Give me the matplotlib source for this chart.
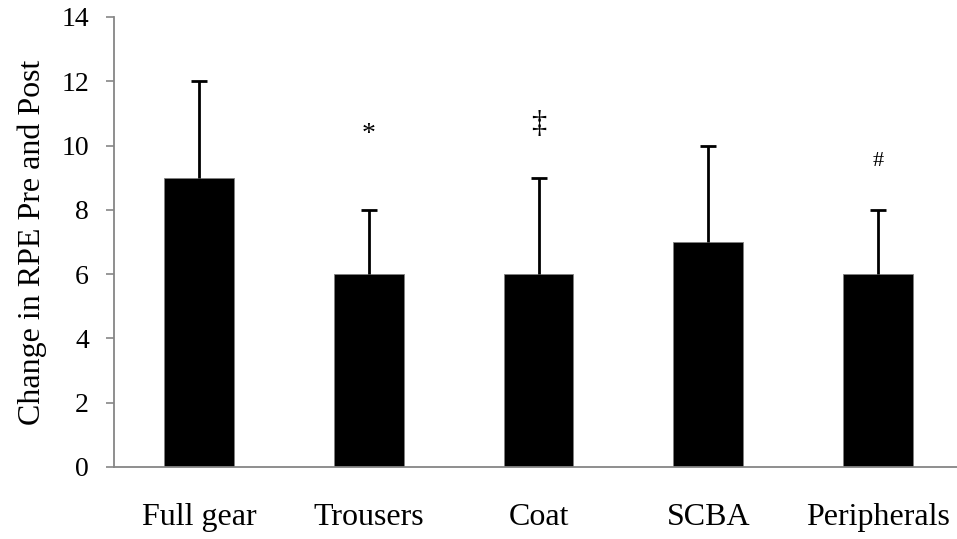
import matplotlib.pyplot as plt
import numpy as np

plt.rcParams.update({"font.family": "Liberation Serif", "font.size": 22})

categories = ["Full gear", "Trousers", "Coat", "SCBA", "Peripherals"]
means = [9, 6, 6, 7, 6]
sd_upper = [3, 2, 3, 3, 2]
marks = ["", "*", "\u2021", "", "#"]
mark_y = [0, 10.33, 10.67, 0, 9.5]
mark_size = [0, 20, 22, 0, 16]

W, H = 957, 539
fig = plt.figure(figsize=(W / 100, H / 100), dpi=100)
ax = fig.add_axes([114 / W, (H - 467) / H, (963 - 114) / W, (467 - 17) / H])

x = np.arange(len(categories))
ax.bar(x, means, width=0.41, color="black", edgecolor="#808080", linewidth=0.6, zorder=2)
_, caps, _ = ax.errorbar(x, means, yerr=[np.zeros(len(x)), sd_upper], fmt="none",
                         ecolor="black", elinewidth=2, capsize=6, capthick=2, zorder=3)
caps[0].set_visible(False)  # only the upper cap

for xi, m, my, ms in zip(x, marks, mark_y, mark_size):
    if m:
        ax.text(xi, my, m, ha="center", va="center", fontsize=ms)

ax.set_xlim(-0.5, 4.5)
ax.set_ylim(0, 14)
ax.set_yticks(np.arange(0, 15, 2))
ax.set_xticks(x, categories)
ax.tick_params(axis="x", length=0, pad=26, labelsize=23)
ax.tick_params(axis="y", direction="out", length=6, width=1.2, color="#868686",
               pad=12, labelsize=20)
ax.set_ylabel("Change in RPE Pre and Post", fontsize=23, labelpad=10)

for s in ["top", "right"]:
    ax.spines[s].set_visible(False)
for s in ["left", "bottom"]:
    ax.spines[s].set_color("#868686")
    ax.spines[s].set_linewidth(1.3)

fig.savefig("out.png", dpi=100)
